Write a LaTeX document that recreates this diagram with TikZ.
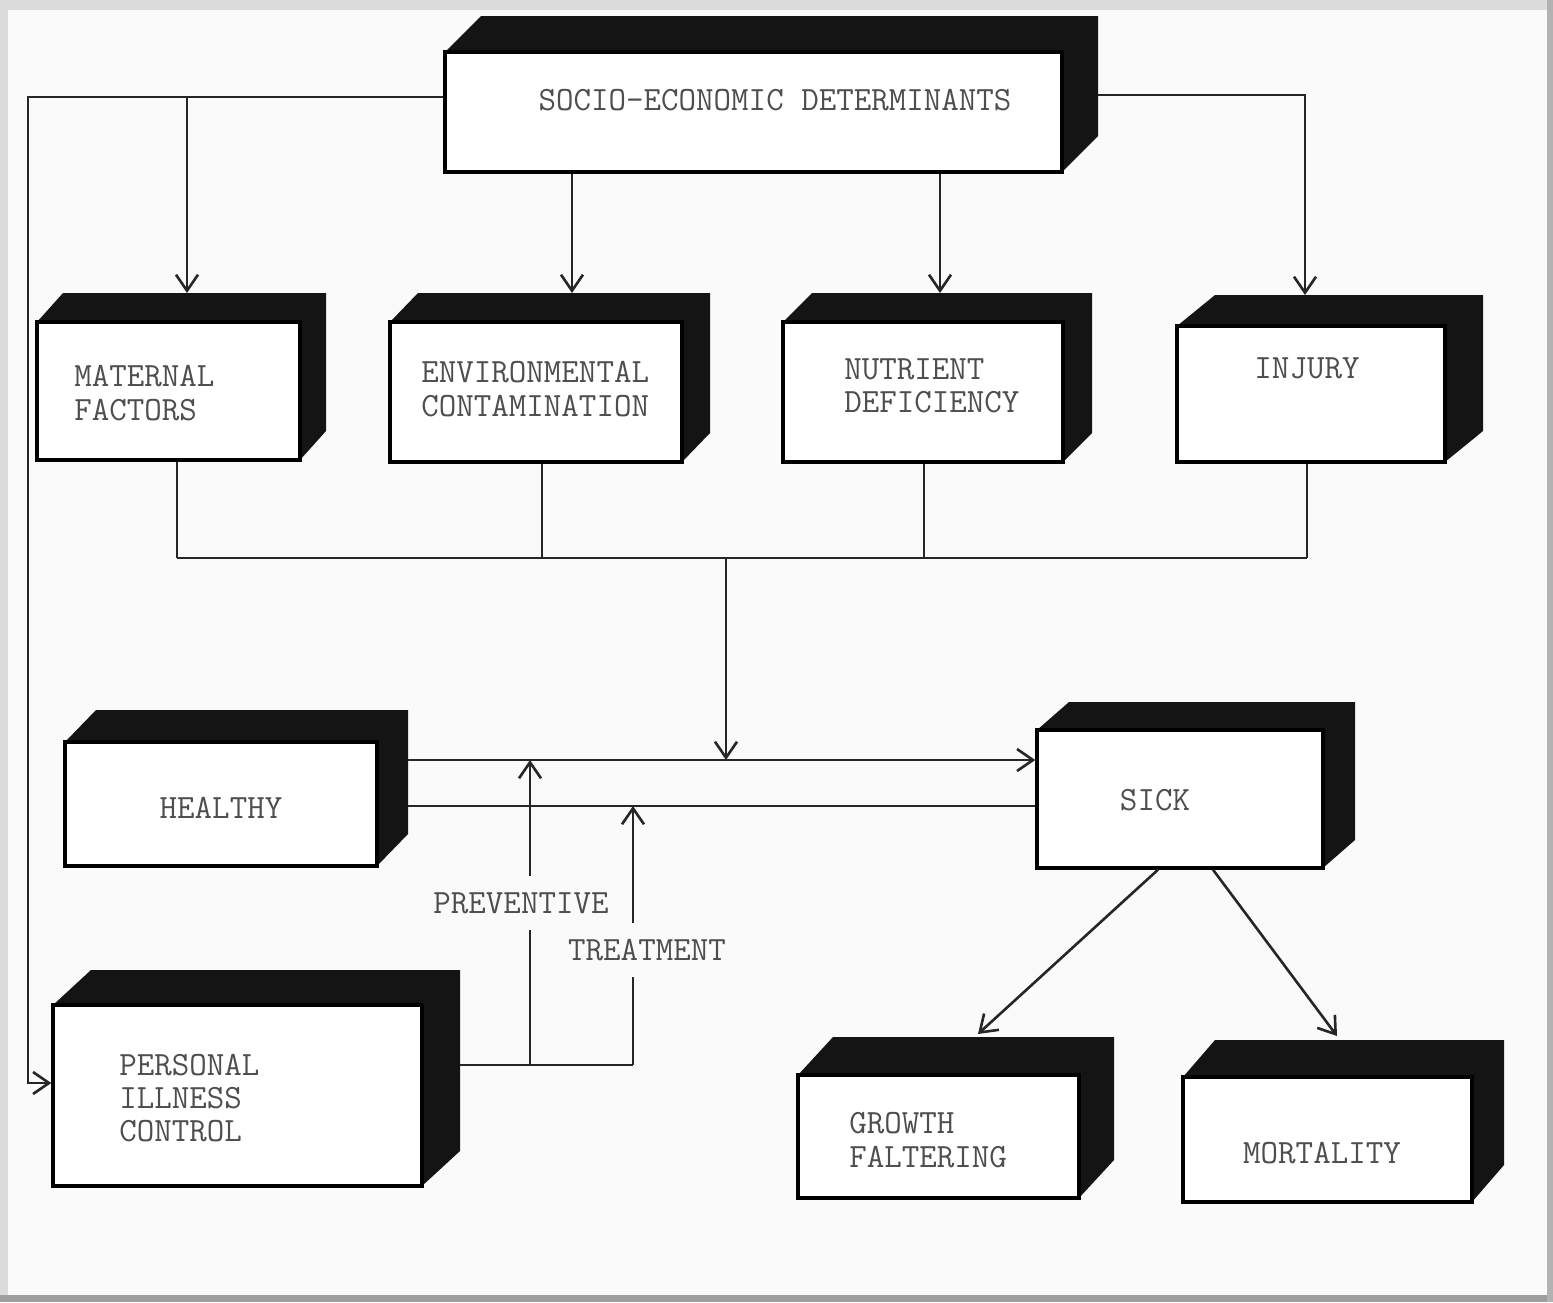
\documentclass[tikz,border=0pt]{standalone}
\usetikzlibrary{arrows.meta,calc,fit}
\definecolor{txt}{RGB}{78,78,78}
\definecolor{paper}{RGB}{250,250,250}
\tikzset{
  front/.style={draw=black, fill=white, line width=1.7pt, inner sep=0pt},
  lab/.style={font=\ttfamily\fontsize{17}{16.6}\selectfont, text=txt, align=left, inner sep=0pt},
  conn/.style={line width=1.3pt, draw=black!85},
  arr/.style={conn, -{Straight Barb[length=8pt,width=11pt,line width=1.3pt]}},
}
% #1 name, #2 x1, #3 y1, #4 x2, #5 y2, #6 depth x, #7 depth y
\newcommand\cubebox[7]{%
  \fill[black!92] (#2,#3) -- (#2+#6,#3-#7) -- (#4+#6,#3-#7) -- (#4+#6,#5-#7) -- (#4,#5) -- (#4,#3) -- cycle;
  \node[front, fit={(#2,#3) (#4,#5)}] (#1) {};
  \coordinate (#1-top) at (#2,#3-#7);
  \coordinate (#1-side) at (#4+#6,#3);
}
\begin{document}
\begin{tikzpicture}[x=0.5pt,y=-0.5pt]
\useasboundingbox (0,0) rectangle (1553,1302);
\fill[gray!28] (0,0) rectangle (1553,1302);
\fill[paper] (8,10) rectangle (1547,1295);
\fill[gray!75] (0,1295) rectangle (1553,1302);
\fill[gray!60] (1547,0) rectangle (1553,1302);

% boxes
\cubebox{socio}{445}{52}{1062}{172}{36}{36}
\cubebox{maternal}{37}{322}{300}{460}{26}{29}
\cubebox{env}{390}{322}{682}{462}{28}{29}
\cubebox{nutr}{783}{322}{1063}{462}{29}{29}
\cubebox{injury}{1177}{326}{1445}{462}{38}{31}
\cubebox{healthy}{65}{742}{377}{866}{31}{32}
\cubebox{sick}{1037}{730}{1323}{868}{32}{28}
\cubebox{personal}{53}{1005}{422}{1186}{38}{35}
\cubebox{growth}{798}{1075}{1079}{1198}{35}{38}
\cubebox{mortality}{1183}{1077}{1472}{1202}{32}{37}

% texts
\node[lab] (socio-t) at (775,100) {SOCIO-ECONOMIC DETERMINANTS};
\node[lab, anchor=west] (maternal-t) at (74,393) {MATERNAL\\FACTORS};
\node[lab, anchor=west] (env-t) at (421,389) {ENVIRONMENTAL\\CONTAMINATION};
\node[lab, anchor=west] (nutr-t) at (844,386) {NUTRIENT\\DEFICIENCY};
\node[lab] (injury-t) at (1307,368) {INJURY};
\node[lab] (healthy-t) at (221,808) {HEALTHY};
\node[lab] (sick-t) at (1155,800) {SICK};
\node[lab, anchor=west] (personal-t) at (119,1098) {PERSONAL\\ILLNESS\\CONTROL};
\node[lab, anchor=west] (growth-t) at (849,1140) {GROWTH\\FALTERING};
\node[lab] (mortality-t) at (1322,1153) {MORTALITY};

% routing coordinates
\coordinate (L1) at (28,97);
\coordinate (L2) at (28,1083);
\coordinate (J1) at (187,97);
\coordinate (xe) at (572,0);
\coordinate (xn) at (940,0);
\coordinate (R1) at (1305,95);
\coordinate (b1) at (177,558);
\coordinate (b2) at (542,558);
\coordinate (b3) at (924,558);
\coordinate (b4) at (1307,558);
\coordinate (b0) at (726,558);
\coordinate (hy1) at (0,760);
\coordinate (hy2) at (0,806);
\coordinate (p1) at (530,1065);
\coordinate (p2) at (633,1065);
\coordinate (s1) at (1158,0);
\coordinate (s2) at (1213,0);
\coordinate (g1) at (978,1034);
\coordinate (m1) at (1337,1036);

% socio-economic connectors
\draw[arr] (socio.west |- L1) -- (L1) -- (L2) -- (personal.west |- L2);
\draw[arr] (J1) -- (J1 |- maternal-top);
\draw[arr] (socio.south -| xe) -- (xe |- env-top);
\draw[arr] (socio.south -| xn) -- (xn |- nutr-top);
\draw[arr] (socio-side |- R1) -- (R1) -- (R1 |- injury-top);

% collecting bus
\draw[conn] (maternal.south -| b1) -- (b1);
\draw[conn] (env.south -| b2) -- (b2);
\draw[conn] (nutr.south -| b3) -- (b3);
\draw[conn] (injury.south -| b4) -- (b4);
\draw[conn] (b1) -- (b4);
\draw[arr] (b0) -- (b0 |- hy1);

% healthy - sick
\draw[arr] (healthy-side |- hy1) -- (sick.west |- hy1);
\draw[conn] (healthy-side |- hy2) -- (sick.west |- hy2);

% personal illness control
\draw[conn] (personal-side |- p1) -- (p2);
\draw[arr] (p1) -- (p1 |- hy1);
\draw[arr] (p2) -- (p2 |- hy2);
\node[lab, fill=paper, inner xsep=2pt, inner ysep=8pt] (prev) at (521,903) {PREVENTIVE};
\node[lab, fill=paper, inner xsep=2pt, inner ysep=8pt] (treat) at (647,950) {TREATMENT};

% sick outcomes
\draw[arr] (sick.south -| s1) -- (g1);
\draw[arr] (sick.south -| s2) -- (m1);
\end{tikzpicture}
\end{document}
